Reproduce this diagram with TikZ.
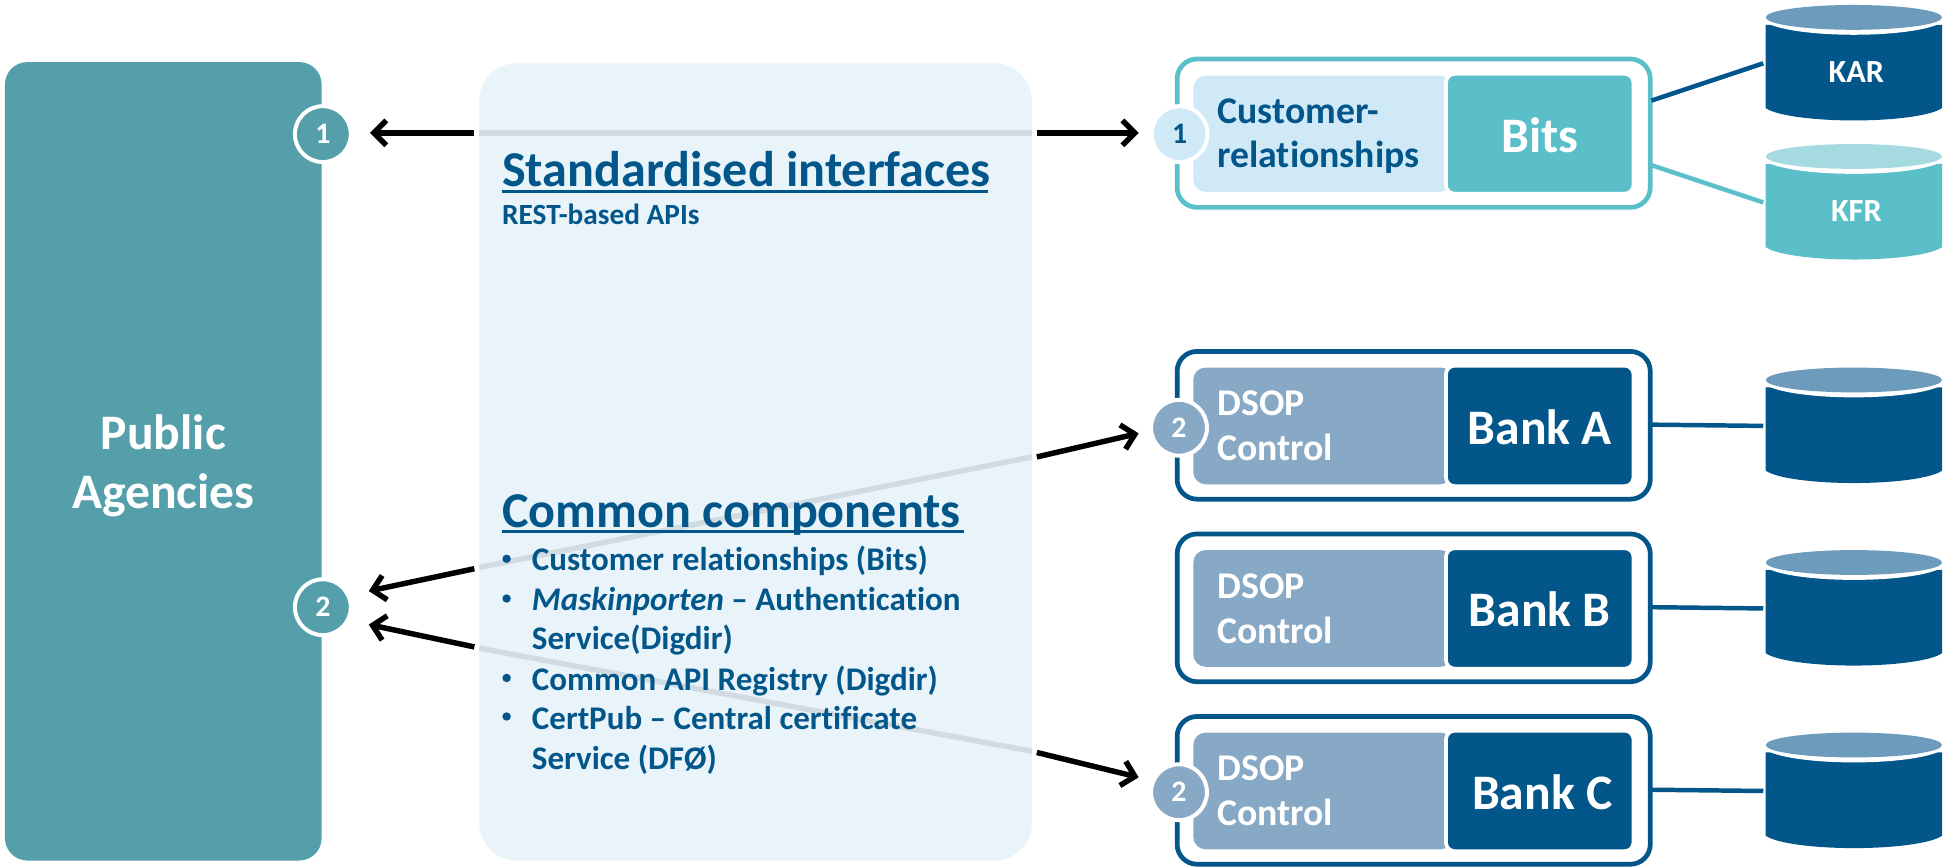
\documentclass[tikz,border=0pt]{standalone}
\usepackage{fontspec}
\setmainfont{Carlito}[Ligatures={TeX,NoCommon}]
\usetikzlibrary{arrows.meta}
\definecolor{teal1}{HTML}{549FAA}
\definecolor{panel}{HTML}{E9F4FA}
\definecolor{navy}{HTML}{02568A}
\definecolor{aqua}{HTML}{5BBFC9}
\definecolor{lightb}{HTML}{CFE9F6}
\definecolor{midb}{HTML}{88A9C6}
\definecolor{topb}{HTML}{6C9BBC}
\definecolor{topa}{HTML}{A5DAE1}
\definecolor{ghost}{HTML}{D0DBE2}
\tikzset{
  x=0.5pt,y=-0.5pt,
  outerbox/.style={draw=#1,line width=1.9pt,fill=white,rounded corners=8pt},
  inL/.style={fill=#1,rounded corners=5pt},
  inR/.style={draw=white,line width=1.5pt,fill=#1,rounded corners=3.5pt},
  badge/.style={circle,draw=white,line width=1.6pt,fill=#1,minimum size=22.5pt,inner sep=0pt,font=\bfseries\fontsize{12}{12}\selectfont},
  arr/.style={draw=black,line width=2.2pt,-{Straight Barb[length=5pt,width=10pt,line width=2.2pt]}},
  ghostline/.style={draw=ghost,line width=2.2pt},
  link/.style={draw=#1,line width=1.8pt},
  bigw/.style={text=white,font=\bfseries\fontsize{20}{20}\selectfont,anchor=center,inner sep=0pt},
  lab/.style={text=navy,font=\bfseries\fontsize{15.2}{18}\selectfont,align=left,anchor=west,inner sep=0pt},
  head/.style={text=navy,font=\bfseries\fontsize{20.2}{20}\selectfont,anchor=base west,inner sep=0pt},
  item/.style={text=navy,font=\bfseries\fontsize{13.3}{16}\selectfont,anchor=base west,inner sep=0pt},
  sub/.style={text=navy,font=\bfseries\fontsize{11.8}{16}\selectfont,anchor=base west,inner sep=0pt},
  dot/.style={circle,fill=navy,minimum size=3.4pt,inner sep=0pt},
  cylt/.style={text=white,font=\bfseries\fontsize{13}{13}\selectfont,inner sep=0pt},
}
\begin{document}
\begin{tikzpicture}
\useasboundingbox (0,0) rectangle (1568,698.25);
\fill[white] (0,0) rectangle (1568,698.25);
% main panels
\fill[teal1,rounded corners=9pt] (4,50) rectangle (259,693);
\node[inner sep=0pt,text=white,align=center,font=\bfseries\fontsize{20}{24}\selectfont] (agency) at (131.5,375) {Public\\Agencies};
\fill[panel,rounded corners=15pt] (386,51) rectangle (831,693);
% agency badges
\node[badge=teal1,text=white] (a1) at (260,108) {1};
\node[badge=teal1,text=white] (a2) at (260,489) {2};
% right boxes
\draw[outerbox=aqua] (948,47.5) rectangle (1329,167);
\fill[inL=lightb] (961,61) rectangle (1170,154.5);
\draw[inR=aqua] (1164.5,59.5) rectangle (1315.5,156);
\node[bigw] (bits) at (1240,109) {Bits};
\node[lab] (cust) at (980,109.5) {Customer-\\relationships};
\foreach \t/\nm/\lb/\cx in {283/A/Bank A/1240,430/B/Bank B/1240,577/C/Bank C/1242}{
  \draw[outerbox=navy] (948,\t) rectangle (1329,\t+119);
  \fill[inL=midb] (961,\t+13) rectangle (1170,\t+107);
  \draw[inR=navy] (1164.5,\t+11.5) rectangle (1315.5,\t+108.5);
  \node[bigw] (bank\nm) at (\cx,\t+61) {\lb};
  \node[lab,text=white] (ctl\nm) at (980,\t+60) {DSOP\\Control};
}
% badges on boxes
\node[badge=lightb,text=navy] (b1) at (950,108) {1};
\node[badge=midb,text=white] (b2) at (949.5,344.5) {2};
\node[badge=midb,text=white] (b3) at (949.5,638) {2};
% cylinders
\foreach \nm/\t/\b/\ct/\cb in {kar/4/97/topb/navy,kfr/116/209/topa/aqua,da/296/389/topb/navy,db/443/536/topb/navy,dc/590/683/topb/navy}{
  \fill[\cb] (1422,\t+16) -- (1422,\b-10) .. controls (1430,\b-4) and (1460,\b) .. (1493,\b) .. controls (1526,\b) and (1556,\b-4) .. (1564,\b-10) -- (1564,\t+16) -- cycle;
  \fill[white] (1493,\t+10) ellipse [x radius=74,y radius=14];
  \fill[\ct] (1493,\t+10) ellipse [x radius=71,y radius=10];
}
\node[cylt] (kart) at (1495,58) {KAR};
\node[cylt] (kfrt) at (1495,170) {KFR};
% links
\coordinate (bitsA) at (1330,81);
\coordinate (bitsB) at (1330,133);
\coordinate (kA) at (1420,51);
\coordinate (kB) at (1420,163);
\draw[link=navy] (bitsA) -- (kA);
\draw[link=aqua] (bitsB) -- (kB);
\coordinate (lA) at (1330,342); \coordinate (rA) at (1420,343);
\coordinate (lB) at (1330,489); \coordinate (rB) at (1420,490);
\coordinate (lC) at (1330,636); \coordinate (rC) at (1420,637);
\draw[link=navy] (lA) -- (rA);
\draw[link=navy] (lB) -- (rB);
\draw[link=navy] (lC) -- (rC);
% arrows
\coordinate (t1l) at (298,107); \coordinate (s1l) at (382,107);
\coordinate (g1l) at (386,107); \coordinate (g1r) at (831,107);
\coordinate (s1r) at (835,107); \coordinate (t1r) at (917,107);
\draw[ghostline] (g1l) -- (g1r);
\draw[arr] (s1l) -- (t1l);
\draw[arr] (s1r) -- (t1r);
\coordinate (t2l) at (297,476); \coordinate (s2l) at (382,458);
\coordinate (g2l) at (386,457); \coordinate (g2r) at (831,368);
\coordinate (s2r) at (835,368); \coordinate (t2r) at (917,349);
\draw[ghostline] (g2l) -- (g2r);
\draw[arr] (s2l) -- (t2l);
\draw[arr] (s2r) -- (t2r);
\coordinate (t3l) at (297,503); \coordinate (s3l) at (382,521);
\coordinate (g3l) at (386,522); \coordinate (g3r) at (831,605);
\coordinate (s3r) at (835,606); \coordinate (t3r) at (917,626);
\draw[ghostline] (g3l) -- (g3r);
\draw[arr] (s3l) -- (t3l);
\draw[arr] (s3r) -- (t3r);
% panel text
\node[head] (h1) at (404,150.5) {Standardised interfaces};
\draw[navy,line width=1.2pt] (404,154) -- (796,154);
\node[sub] (h1s) at (404,181) {REST-based APIs};
\node[head] (h2) at (404,424.5) {Common components};
\draw[navy,line width=1.2pt] (404,428) -- (776,428);
\foreach \y/\txt in {
  459.5/{Customer relationships (Bits)},
  491.5/{\textit{Maskinporten} -- Authentication},
  523/{Service(Digdir)},
  556/{Common API Registry (Digdir)},
  587.5/{CertPub -- Central certificate},
  619.5/{Service (DFØ)}}{
  \node[item] at (428,\y) {\txt};
}
\foreach \y in {450,482,546,577}{\node[dot] at (408,\y) {};}
\end{tikzpicture}
\end{document}
